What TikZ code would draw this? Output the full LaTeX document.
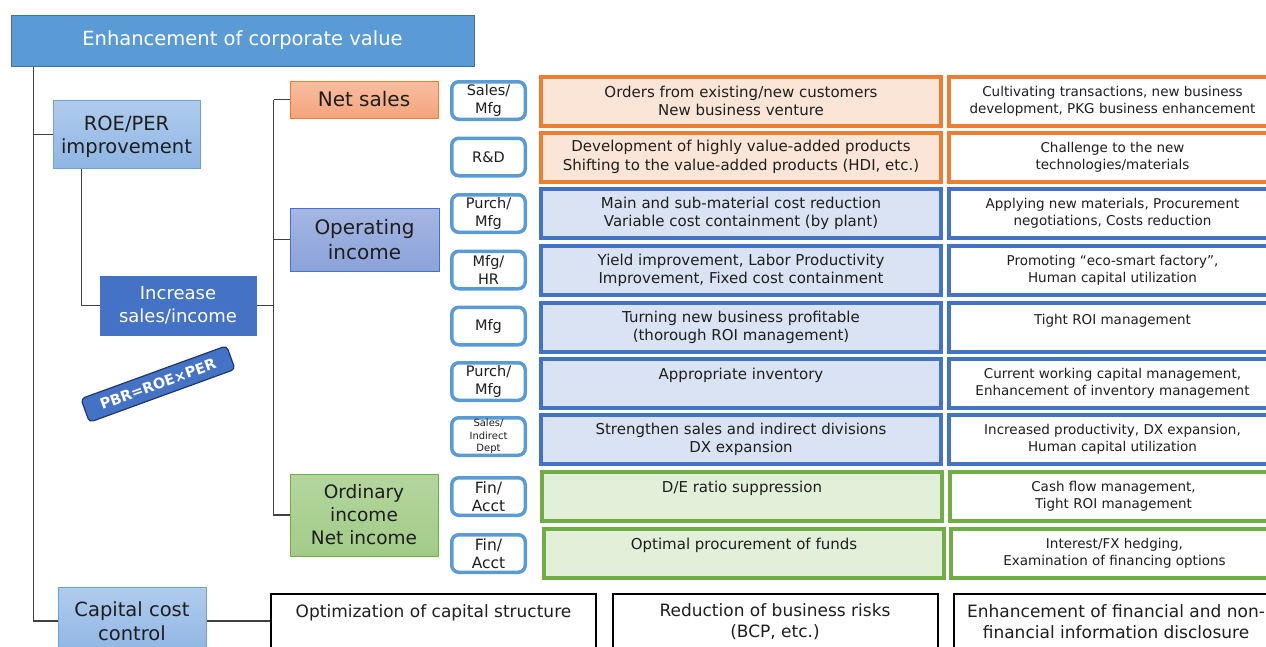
\documentclass[tikz,border=0pt]{standalone}
\usepackage{fontspec}
\setmainfont{DejaVu Sans}
\usetikzlibrary{calc}
\definecolor{hdr}{HTML}{5B9BD5}
\definecolor{hdrb}{HTML}{41719C}
\definecolor{lbtop}{HTML}{AFCCEC}
\definecolor{lbbot}{HTML}{8FB5E4}
\definecolor{lbb}{HTML}{6FA0DA}
\definecolor{orb}{HTML}{ED7D31}
\definecolor{orf}{HTML}{FBE5D6}
\definecolor{ortop}{HTML}{F8BEA0}
\definecolor{orbot}{HTML}{F4A47C}
\definecolor{blb}{HTML}{4472C4}
\definecolor{blf}{HTML}{DAE3F3}
\definecolor{bltop}{HTML}{A5B7E2}
\definecolor{blbot}{HTML}{8BA2DA}
\definecolor{grb}{HTML}{70AD47}
\definecolor{grf}{HTML}{E2F0D9}
\definecolor{grtop}{HTML}{B4D69E}
\definecolor{grbot}{HTML}{A2CB88}
\definecolor{sbc}{HTML}{5B9BD5}
\definecolor{linec}{HTML}{404040}
\definecolor{txt}{HTML}{1E1E1E}
\definecolor{pbrb}{HTML}{203864}
\tikzset{
  conn/.style={draw=linec, line width=1.3pt},
  lab/.style={inner sep=0pt, align=center, text=txt},
  sbox/.style={lab, draw=sbc, line width=3.5pt, rounded corners=7pt, fill=white,
    minimum width=73.5pt, minimum height=37.5pt, font=\fontsize{14.5}{17.5}\selectfont},
  midbox/.style={lab, line width=4pt, minimum width=400pt, minimum height=49pt,
    font=\fontsize{15}{18.5}\selectfont},
  rbox/.style={lab, line width=4pt, fill=white, minimum width=327pt, minimum height=49pt,
    font=\fontsize{13.5}{17}\selectfont},
  bbox/.style={lab, draw=black, line width=2pt, fill=white, minimum width=325pt,
    minimum height=56pt, font=\fontsize{17}{21}\selectfont},
  bigbox/.style={lab, line width=1pt},
}
\begin{document}
\begin{tikzpicture}[x=1pt,y=-1pt]
\useasboundingbox (0,0) rectangle (1266,646);
\clip (0,0) rectangle (1266,646);
% main label boxes
\node[bigbox, draw=hdrb, fill=hdr, text=white, minimum width=463pt, minimum height=51pt,
  font=\fontsize{19.5}{23}\selectfont] (top) at (242.5,40.5) {Enhancement of corporate value};
\node[bigbox, draw=lbb, top color=lbtop, bottom color=lbbot, minimum width=147pt, minimum height=68pt,
  text depth=0pt, font=\fontsize{19.5}{23}\selectfont] (roe) at (126.5,134.5) {ROE/PER\\improvement};
\node[bigbox, draw=blb, fill=blb, text=white, minimum width=156pt, minimum height=59pt,
  font=\fontsize{18}{23}\selectfont] (inc) at (178,305.5) {Increase\\sales/income};
\node[bigbox, draw=orb, top color=ortop, bottom color=orbot, minimum width=148pt, minimum height=37pt,
  font=\fontsize{20}{24}\selectfont] (net) at (364,99.5) {Net sales};
\node[bigbox, draw=blb, top color=bltop, bottom color=blbot, minimum width=149pt, minimum height=63pt,
  font=\fontsize{20}{25}\selectfont] (op) at (364.5,239.5) {Operating\\income};
\node[bigbox, draw=grb, top color=grtop, bottom color=grbot, minimum width=148pt, minimum height=82pt,
  font=\fontsize{18.5}{23}\selectfont] (ord) at (364,515) {Ordinary\\income\\Net income};
\node[bigbox, draw=lbb, top color=lbtop, bottom color=lbbot, minimum width=148pt, minimum height=68pt,
  font=\fontsize{19.5}{24}\selectfont] (cap) at (132,621) {Capital cost\\control};
\node[lab, rotate=20, draw=pbrb, fill=blb, line width=1.2pt, rounded corners=4pt, text=white,
  minimum width=155pt, minimum height=25pt, font=\fontsize{14.5}{16}\selectfont\bfseries] (pbr) at (158,384) {PBR=ROE×PER};
% connectors
\draw[conn] ($(top.south west)+(23,0)$) |- (roe.west);
\draw[conn] ($(top.south west)+(23,0)$) |- (cap.west);
\draw[conn] ($(roe.south west)+(29,0)$) |- (inc.west);
\coordinate (bus) at ($(inc.east)+(17,0)$);
\draw[conn] (inc.east) -- (bus);
\draw[conn] (bus |- net.west) -- (net.west);
\draw[conn] (bus |- net.west) |- (ord.west);
\draw[conn] (bus |- op.west) -- (op.west);
% small department boxes
\node[sbox] (s1) at (488.5,100.5) {Sales/\\Mfg};
\node[sbox] (s2) at (488.5,157) {R\&D};
\node[sbox] (s3) at (488.5,213.5) {Purch/\\Mfg};
\node[sbox] (s4) at (488.5,270) {Mfg/\\HR};
\node[sbox] (s5) at (488.5,326) {Mfg};
\node[sbox] (s6) at (488.5,381.5) {Purch/\\Mfg};
\node[sbox, font=\fontsize{10}{12.5}\selectfont] (s7) at (488.5,436.5) {Sales/\\Indirect\\Dept};
\node[sbox, font=\fontsize{15.5}{18}\selectfont] (s8) at (488.5,496.5) {Fin/\\Acct};
\node[sbox, font=\fontsize{15.5}{18}\selectfont] (s9) at (488.5,553.5) {Fin/\\Acct};
% middle boxes
\node[midbox, draw=orb, fill=orf] (m1) at (741,101) {Orders from existing/new customers\\New business venture};
\node[midbox, draw=orb, fill=orf] (m2) at (741,157) {Development of highly value-added products\\Shifting to the value-added products (HDI, etc.)};
\node[midbox, draw=blb, fill=blf] (m3) at (741,213.5) {Main and sub-material cost reduction\\Variable cost containment (by plant)};
\node[midbox, draw=blb, fill=blf] (m4) at (741,270.5) {Yield improvement, Labor Productivity\\Improvement, Fixed cost containment};
\node[midbox, draw=blb, fill=blf] (m5) at (741,327.5) {Turning new business profitable\\(thorough ROI management)};
\node[midbox, draw=blb, fill=blf] (m6) at (741,383.5) {Appropriate inventory\\\mbox{}};
\node[midbox, draw=blb, fill=blf] (m7) at (741,439.5) {Strengthen sales and indirect divisions\\DX expansion};
\node[midbox, draw=grb, fill=grf] (m8) at (742,496.5) {D/E ratio suppression\\\mbox{}};
\node[midbox, draw=grb, fill=grf] (m9) at (744,553.5) {Optimal procurement of funds\\\mbox{}};
% right boxes
\node[rbox, draw=orb] (r1) at (1112.5,101) {Cultivating transactions, new business\\development, PKG business enhancement};
\node[rbox, draw=orb] (r2) at (1112.5,157) {Challenge to the new\\technologies/materials};
\node[rbox, draw=blb] (r3) at (1112.5,213.5) {Applying new materials, Procurement\\negotiations, Costs reduction};
\node[rbox, draw=blb] (r4) at (1112.5,270.5) {Promoting “eco-smart factory”,\\Human capital utilization};
\node[rbox, draw=blb] (r5) at (1112.5,327.5) {Tight ROI management\\\mbox{}};
\node[rbox, draw=blb] (r6) at (1112.5,383.5) {Current working capital management,\\Enhancement of inventory management};
\node[rbox, draw=blb] (r7) at (1112.5,439.5) {Increased productivity, DX expansion,\\Human capital utilization};
\node[rbox, draw=grb] (r8) at (1113.5,496.5) {Cash flow management,\\Tight ROI management};
\node[rbox, draw=grb] (r9) at (1114.5,553.5) {Interest/FX hedging,\\Examination of financing options};
% bottom boxes
\node[bbox] (b1) at (433.5,622) {Optimization of capital structure\\\mbox{}};
\node[bbox] (b2) at (775,622) {Reduction of business risks\\(BCP, etc.)};
\node[bbox] (b3) at (1116,622) {Enhancement of financial and non-\\financial information disclosure};
\draw[conn] (cap.east) -- (b1.west |- cap.east);
\end{tikzpicture}
\end{document}
